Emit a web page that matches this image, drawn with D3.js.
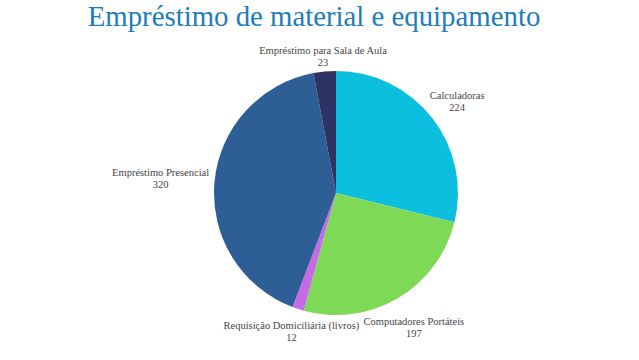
<!DOCTYPE html>
<html>
<head>
<meta charset="utf-8">
<script src="https://cdn.jsdelivr.net/npm/d3@7"></script>
<style>
  body { margin: 0; background: #fff; }
  svg { display: block; }
</style>
</head>
<body>
<svg id="chart"></svg>
<script>
const width = 639;
const height = 360;

// data
const categories = ["Calculadoras", "Computadores Portáteis", "Requisição Domiciliária (livros)", "Empréstimo Presencial", "Empréstimo para Sala de Aula"];
const values = [224, 197, 12, 320, 23];
const colors = ["#0cbfdf", "#7ed957", "#c66be6", "#2d5e96", "#2e3366"];

// small nudges for label placement (dx, dy)
const labelNudge = [[3, 0], [2, 5], [2, -5], [-26, -2], [1, 12]];

let svg = d3.select("#chart")
            .attr("width", width)
            .attr("height", height);

// title
svg.append("text")
   .attr("x", 314)
   .attr("y", 26)
   .attr("text-anchor", "middle")
   .style("font-family", "'Liberation Serif', 'DejaVu Serif', serif")
   .style("font-size", "28.8px")
   .style("fill", "#1c7dba")
   .text("Empréstimo de material e equipamento");

const cx = 336, cy = 193, radius = 122;

let pie = d3.pie().sort(null).value(d => d);
let arcs = pie(values);

let arc = d3.arc().innerRadius(0).outerRadius(radius);
let labelArc = d3.arc().innerRadius(150).outerRadius(150);

let g = svg.append("g")
           .attr("transform", "translate(" + cx + "," + cy + ")");

g.selectAll("path")
 .data(arcs)
 .enter()
 .append("path")
 .attr("d", arc)
 .attr("fill", (d, i) => colors[i]);

// labels: name on first line, value under it
let labels = g.selectAll(".lbl")
  .data(arcs)
  .enter()
  .append("text")
  .attr("class", "lbl")
  .attr("text-anchor", "middle")
  .style("font-family", "'Liberation Serif', 'DejaVu Serif', serif")
  .style("font-size", "10.5px")
  .style("fill", "#444")
  .attr("transform", (d, i) => {
      let c = labelArc.centroid(d);
      return "translate(" + (c[0] + labelNudge[i][0]) + "," + (c[1] + labelNudge[i][1]) + ")";
  });

labels.append("tspan")
  .attr("x", 0)
  .attr("y", -2)
  .text((d, i) => categories[i]);

labels.append("tspan")
  .attr("x", 0)
  .attr("y", 10)
  .text(d => d.data);
</script>
</body>
</html>
